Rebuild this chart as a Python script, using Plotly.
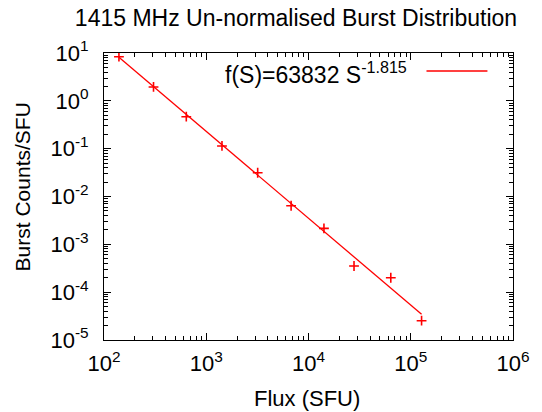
import plotly.graph_objects as go
import numpy as np

# Data
flux = [140, 305, 638, 1425, 3184, 6760, 14160, 27870, 63800, 127600]
counts = [8.37, 1.95, 0.466, 0.114, 0.0314, 0.00641, 0.00216, 3.52e-4, 2.0e-4, 2.53e-5]

# Fit parameters (from the legend)
fit_a = 63832
fit_b = -1.815
fit_label = "f(S)=63832 S<sup>-1.815</sup>"

x_tickvals = [1e2, 1e3, 1e4, 1e5, 1e6]
x_ticktext = ["10<sup>2</sup>", "10<sup>3</sup>", "10<sup>4</sup>", "10<sup>5</sup>", "10<sup>6</sup>"]
y_tickvals = [1e1, 1e0, 1e-1, 1e-2, 1e-3, 1e-4, 1e-5]
y_ticktext = ["10<sup>1</sup>", "10<sup>0</sup>", "10<sup>-1</sup>", "10<sup>-2</sup>",
              "10<sup>-3</sup>", "10<sup>-4</sup>", "10<sup>-5</sup>"]

fit_x = np.logspace(np.log10(flux[0]), np.log10(flux[-1]), 100)
fit_y = fit_a * fit_x ** fit_b

RED = "#ff0000"
FONT = "Liberation Sans, Arial, Helvetica, sans-serif"

fig = go.Figure()
fig.add_trace(go.Scatter(x=fit_x, y=fit_y, mode="lines",
                         line=dict(color=RED, width=1.3), showlegend=False))
fig.add_trace(go.Scatter(x=flux, y=counts, mode="markers",
                         marker=dict(symbol="cross-thin", size=7,
                                     line=dict(color=RED, width=1.6)),
                         showlegend=False))

axis_common = dict(
    showgrid=False, zeroline=False, showline=True, linecolor="black", linewidth=1,
    mirror="allticks", ticks="inside", ticklen=7, tickcolor="black", tickwidth=1,
    tickfont=dict(family=FONT, size=22, color="black"),
    minor=dict(ticks="inside", ticklen=4, tickcolor="black", tickwidth=1, dtick="D1", showgrid=False),
)

fig.update_xaxes(type="log", range=[2, 6], tickvals=x_tickvals, ticktext=x_ticktext,
                 ticklabelstandoff=4, **axis_common)
fig.update_yaxes(type="log", range=[-5, 1], tickvals=y_tickvals, ticktext=y_ticktext,
                 ticklabelstandoff=10, **axis_common)

fig.update_layout(
    width=542, height=412,
    margin=dict(l=104, r=22, t=53, b=72),
    paper_bgcolor="white", plot_bgcolor="white",
    font=dict(family=FONT, color="black"),
    title=dict(text="1415 MHz Un-normalised Burst Distribution", x=296 / 542, xanchor="center",
               y=1 - 18 / 412, yanchor="middle", font=dict(family=FONT, size=23, color="black")),
    annotations=[
        dict(text="Flux (SFU)", xref="paper", yref="paper", x=(310 - 104) / 416, y=-(398 - 340) / 287,
             xanchor="center", yanchor="middle", showarrow=False,
             font=dict(family=FONT, size=22, color="black")),
        dict(text="Burst Counts/SFU", xref="paper", yref="paper", x=-(104 - 21) / 416,
             y=(340 - 187) / 287, xanchor="center", yanchor="middle", textangle=-90,
             showarrow=False, font=dict(family=FONT, size=21, color="black")),
        dict(text=fit_label, xref="paper", yref="paper", x=(414 - 104) / 416,
             y=(340 - 73) / 287, xanchor="right", yanchor="middle", showarrow=False,
             font=dict(family=FONT, size=23, color="black")),
    ],
    shapes=[
        dict(type="line", xref="paper", yref="paper",
             x0=(432 - 104) / 416, x1=(494 - 104) / 416,
             y0=(340 - 71) / 287, y1=(340 - 71) / 287,
             line=dict(color=RED, width=1.3)),
    ],
)

fig.write_html("out.html", config={"displayModeBar": False},
               post_script="document.body.style.margin='0';document.body.style.padding='0';")
